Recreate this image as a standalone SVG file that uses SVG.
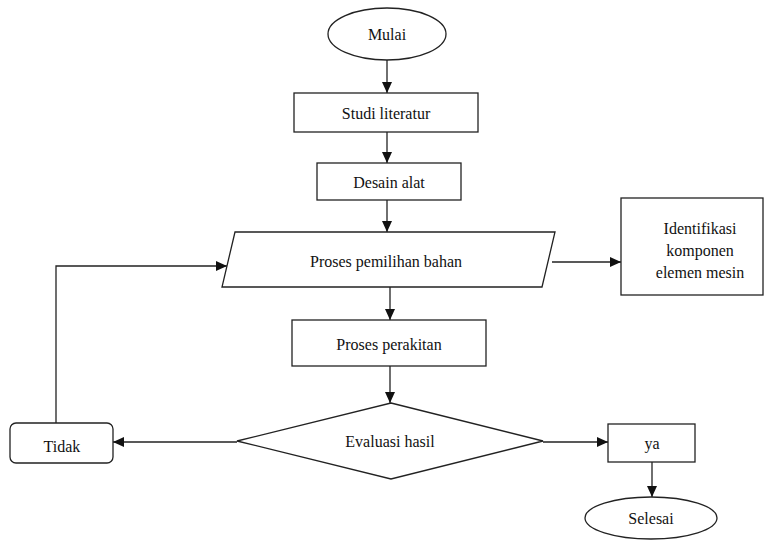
<svg xmlns="http://www.w3.org/2000/svg" width="765" height="543" viewBox="0 0 765 543">
<style>
.s{fill:#fff;stroke:#222;stroke-width:1.3}
.c{fill:none;stroke:#222;stroke-width:1.3}
.t{font-family:'Liberation Serif',Tinos,'Times New Roman',Times,'Noto Serif','DejaVu Serif',serif;font-size:16px;fill:#111;text-anchor:middle;dominant-baseline:central}
</style>
<defs>
<marker id="ah" markerWidth="12" markerHeight="10" refX="11" refY="5" orient="auto" markerUnits="userSpaceOnUse">
<path d="M0,0 L11,5 L0,10 Z" fill="#111"/>
</marker>
</defs>
<rect width="765" height="543" fill="#fff"/>
<g id="connectors">
<line class="c" x1="387" y1="60" x2="387" y2="93" marker-end="url(#ah)"/>
<line class="c" x1="387" y1="132" x2="387" y2="163" marker-end="url(#ah)"/>
<line class="c" x1="387" y1="200" x2="387" y2="232" marker-end="url(#ah)"/>
<line class="c" x1="390" y1="287" x2="390" y2="320" marker-end="url(#ah)"/>
<line class="c" x1="390" y1="366" x2="390" y2="403" marker-end="url(#ah)"/>
<line class="c" x1="552" y1="262" x2="621" y2="262" marker-end="url(#ah)"/>
<line class="c" x1="237" y1="442" x2="113" y2="442" marker-end="url(#ah)"/>
<polyline class="c" points="56,423 56,266 227,266" marker-end="url(#ah)"/>
<line class="c" x1="543" y1="442" x2="608" y2="442" marker-end="url(#ah)"/>
<line class="c" x1="652" y1="462" x2="652" y2="497" marker-end="url(#ah)"/>
</g>
<g id="mulai">
<ellipse class="s" cx="387" cy="34" rx="59" ry="26"/>
<text class="t" x="387" y="34">Mulai</text>
</g>
<g id="studi">
<rect class="s" x="294" y="93" width="184" height="39"/>
<text class="t" x="386" y="113">Studi literatur</text>
</g>
<g id="desain">
<rect class="s" x="317" y="163" width="144" height="37"/>
<text class="t" x="389" y="182">Desain alat</text>
</g>
<g id="pemilihan">
<polygon class="s" points="235,232 555,232 542,287 222,287"/>
<text class="t" x="386" y="261">Proses pemilihan bahan</text>
</g>
<g id="identifikasi">
<rect class="s" x="621" y="198" width="142" height="97"/>
<text class="t" x="700" y="228">Identifikasi</text>
<text class="t" x="700" y="250">komponen</text>
<text class="t" x="700" y="272">elemen mesin</text>
</g>
<g id="perakitan">
<rect class="s" x="292" y="320" width="194" height="46"/>
<text class="t" x="389" y="344">Proses perakitan</text>
</g>
<g id="evaluasi">
<polygon class="s" points="391,403 543,441 391,479 237,441"/>
<text class="t" x="390" y="441">Evaluasi hasil</text>
</g>
<g id="tidak">
<rect class="s" x="10" y="423" width="103" height="40" rx="6"/>
<text class="t" x="62" y="446">Tidak</text>
</g>
<g id="ya">
<rect class="s" x="608" y="424" width="87" height="38"/>
<text class="t" x="652" y="443">ya</text>
</g>
<g id="selesai">
<ellipse class="s" cx="651" cy="518" rx="66" ry="21"/>
<text class="t" x="651" y="518">Selesai</text>
</g>
</svg>
